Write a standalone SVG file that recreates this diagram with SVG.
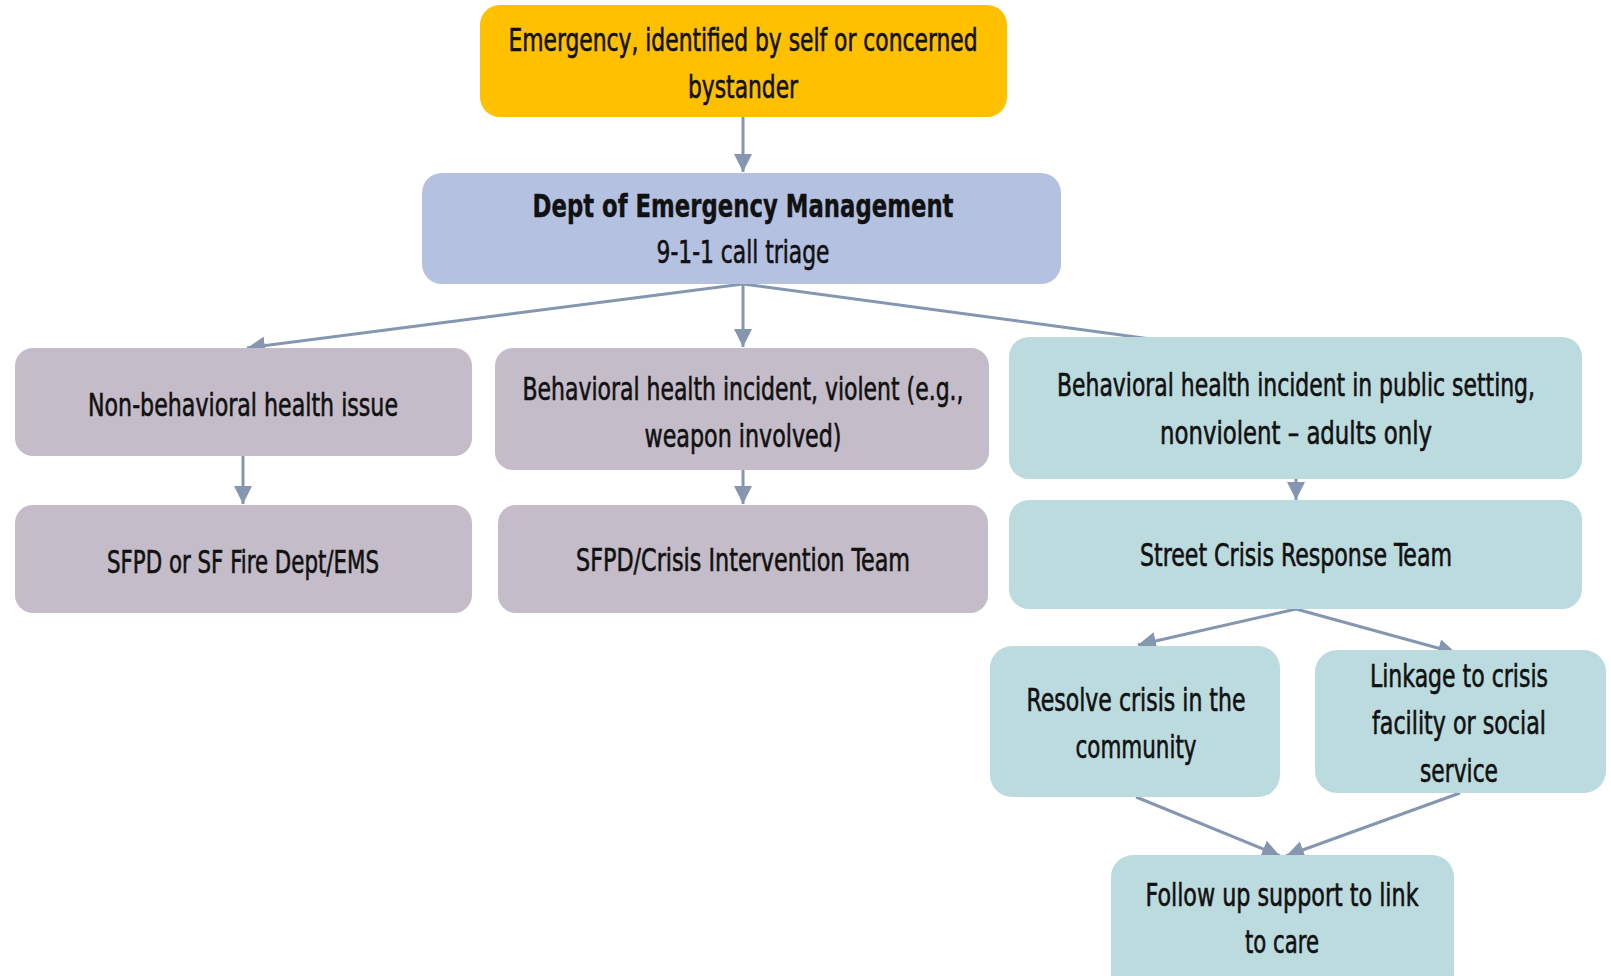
<svg xmlns="http://www.w3.org/2000/svg" width="1611" height="976" viewBox="0 0 1611 976">
<style>
.t{font-family:"Liberation Sans Narrow","DejaVu Sans Condensed","Liberation Sans",sans-serif;font-size:32px;fill:#111;stroke:#111;stroke-width:0.6;text-anchor:middle;font-stretch:condensed}
.b{font-weight:bold;stroke-width:0.4}
.c{fill:none;stroke:#8496B0;stroke-width:3}
.y{fill:#FFC000}
.p{fill:#B4C1E1}
.g{fill:#C4BCC8}
.q{fill:#BCDBDF}
</style>
<defs>
<marker id="a" markerUnits="userSpaceOnUse" markerWidth="22" markerHeight="20" refX="18" refY="10" orient="auto">
<path d="M0,1 L18,10 L0,19 Z" fill="#8496B0"/>
</marker>
</defs>
<g id="connectors">
<line class="c" x1="743" y1="117" x2="743" y2="172" marker-end="url(#a)"/>
<line class="c" x1="743" y1="284" x2="247" y2="348" marker-end="url(#a)"/>
<line class="c" x1="743" y1="284" x2="743" y2="347" marker-end="url(#a)"/>
<line class="c" x1="743" y1="284" x2="1158" y2="340"/>
<line class="c" x1="243" y1="456" x2="243" y2="504" marker-end="url(#a)"/>
<line class="c" x1="743" y1="470" x2="743" y2="504" marker-end="url(#a)"/>
<line class="c" x1="1296" y1="478" x2="1296" y2="500" marker-end="url(#a)"/>
<line class="c" x1="1296" y1="609" x2="1138" y2="645" marker-end="url(#a)"/>
<line class="c" x1="1296" y1="609" x2="1456" y2="653" marker-end="url(#a)"/>
<line class="c" x1="1136" y1="797" x2="1280" y2="856" marker-end="url(#a)"/>
<line class="c" x1="1460" y1="793" x2="1286" y2="856" marker-end="url(#a)"/>
</g>
<g id="n1"><rect class="y" x="480" y="5" width="527" height="112" rx="20"/>
<text class="t" x="743" y="51" textLength="469" lengthAdjust="spacingAndGlyphs">Emergency, identified by self or concerned</text>
<text class="t" x="743" y="98" textLength="110" lengthAdjust="spacingAndGlyphs">bystander</text></g>
<g id="n2"><rect class="p" x="422" y="173" width="639" height="111" rx="20"/>
<text class="t b" x="743" y="217" textLength="421" lengthAdjust="spacingAndGlyphs">Dept of Emergency Management</text>
<text class="t" x="743" y="263" textLength="173" lengthAdjust="spacingAndGlyphs">9-1-1 call triage</text></g>
<g id="n3"><rect class="g" x="15" y="348" width="457" height="108" rx="18"/>
<text class="t" x="243" y="416" textLength="310" lengthAdjust="spacingAndGlyphs">Non-behavioral health issue</text></g>
<g id="n4"><rect class="g" x="495" y="348" width="494" height="122" rx="18"/>
<text class="t" x="743" y="400" textLength="441" lengthAdjust="spacingAndGlyphs">Behavioral health incident, violent (e.g.,</text>
<text class="t" x="743" y="447" textLength="197" lengthAdjust="spacingAndGlyphs">weapon involved)</text></g>
<g id="n5"><rect class="q" x="1009" y="337" width="573" height="142" rx="20"/>
<text class="t" x="1296" y="396" textLength="478" lengthAdjust="spacingAndGlyphs">Behavioral health incident in public setting,</text>
<text class="t" x="1296" y="444" textLength="272" lengthAdjust="spacingAndGlyphs">nonviolent – adults only</text></g>
<g id="n6"><rect class="g" x="15" y="505" width="457" height="108" rx="18"/>
<text class="t" x="243" y="573" textLength="272" lengthAdjust="spacingAndGlyphs">SFPD or SF Fire Dept/EMS</text></g>
<g id="n7"><rect class="g" x="498" y="505" width="490" height="108" rx="18"/>
<text class="t" x="743" y="571" textLength="334" lengthAdjust="spacingAndGlyphs">SFPD/Crisis Intervention Team</text></g>
<g id="n8"><rect class="q" x="1009" y="500" width="573" height="109" rx="20"/>
<text class="t" x="1296" y="566" textLength="312" lengthAdjust="spacingAndGlyphs">Street Crisis Response Team</text></g>
<g id="n9"><rect class="q" x="990" y="646" width="290" height="151" rx="22"/>
<text class="t" x="1136" y="711" textLength="219" lengthAdjust="spacingAndGlyphs">Resolve crisis in the</text>
<text class="t" x="1136" y="758" textLength="121" lengthAdjust="spacingAndGlyphs">community</text></g>
<g id="n10"><rect class="q" x="1315" y="650" width="291" height="143" rx="22"/>
<text class="t" x="1459" y="687" textLength="178" lengthAdjust="spacingAndGlyphs">Linkage to crisis</text>
<text class="t" x="1459" y="734" textLength="174" lengthAdjust="spacingAndGlyphs">facility or social</text>
<text class="t" x="1459" y="782" textLength="78" lengthAdjust="spacingAndGlyphs">service</text></g>
<g id="n11"><rect class="q" x="1111" y="855" width="343" height="140" rx="22"/>
<text class="t" x="1282" y="906" textLength="273" lengthAdjust="spacingAndGlyphs">Follow up support to link</text>
<text class="t" x="1282" y="953" textLength="74" lengthAdjust="spacingAndGlyphs">to care</text></g>
</svg>
